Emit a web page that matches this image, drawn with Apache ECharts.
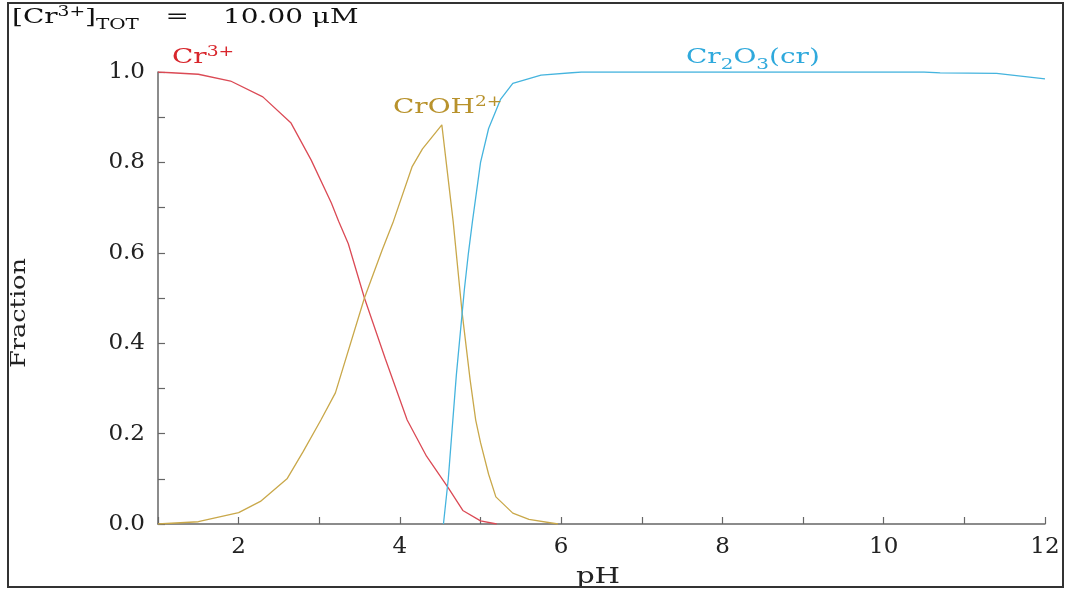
<!DOCTYPE html>
<html>
<head>
<meta charset="utf-8">
<script src="https://cdn.jsdelivr.net/npm/echarts@6/dist/echarts.min.js"></script>
<style>
  html, body { margin: 0; padding: 0; background: #fff; }
  #chart { width: 1067px; height: 590px; }
</style>
</head>
<body>
<div id="chart"></div>
<script>
// Chromium(III) speciation, total 10 µM: fraction of each species vs pH
const crFreePH   = [1.0, 1.5, 1.9, 2.3, 2.65, 2.9, 3.15, 3.24, 3.36, 3.56, 3.82, 4.09, 4.33, 4.6, 4.78, 5.0, 5.2];
const crFreeFrac = [1.0, 0.995, 0.98, 0.945, 0.887, 0.805, 0.71, 0.67, 0.62, 0.5, 0.365, 0.23, 0.15, 0.08, 0.03, 0.007, 0.0];

const crOHPH   = [1.0, 1.5, 2.0, 2.27, 2.6, 2.8, 3.02, 3.2, 3.56, 3.78, 3.92, 4.15, 4.28, 4.52, 4.66, 4.77, 4.87, 4.94, 5.0, 5.1, 5.19, 5.4, 5.6, 5.96];
const crOHFrac = [0.0, 0.005, 0.025, 0.05, 0.1, 0.16, 0.23, 0.29, 0.5, 0.606, 0.67, 0.79, 0.83, 0.883, 0.67, 0.47, 0.32, 0.23, 0.18, 0.11, 0.06, 0.024, 0.01, 0.0];

const cr2o3PH   = [4.54, 4.6, 4.7, 4.8, 4.85, 4.9, 5.0, 5.1, 5.25, 5.4, 5.75, 6.25, 8.0, 10.5, 10.7, 11.4, 12.0];
const cr2o3Frac = [0.0, 0.1, 0.33, 0.52, 0.6, 0.67, 0.8, 0.875, 0.94, 0.975, 0.993, 1.0, 1.0, 1.0, 0.998, 0.997, 0.985];

const xTickLabels = [2, 4, 6, 8, 10, 12];
const yTickLabels = [0.0, 0.2, 0.4, 0.6, 0.8, 1.0];

const FONT = '"DejaVu Serif", "Liberation Serif", serif';
const RED = '#db4a55', GOLD = '#c9a84a', BLUE = '#45b4de';
const WIDE = 1.33;   // horizontal stretch applied to the annotation text

function pairs(xs, ys) { return xs.map((x, i) => [x, ys[i]]); }

const lineSeries = (name, xs, ys, color) => ({
  name, type: 'line', data: pairs(xs, ys), showSymbol: false, smooth: false,
  lineStyle: { color, width: 1.3 }, z: 3
});

const rich = {
  b:   { fontFamily: FONT, fontSize: 21, lineHeight: 30, verticalAlign: 'middle' },
  sup: { fontFamily: FONT, fontSize: 14, lineHeight: 30, verticalAlign: 'top', padding: [2, 0, 0, 0] },
  sub: { fontFamily: FONT, fontSize: 15, lineHeight: 30, verticalAlign: 'bottom', padding: [0, 0, 0, 0] },
  tot: { fontFamily: FONT, fontSize: 15, lineHeight: 30, verticalAlign: 'bottom', padding: [6, 0, 0, 0] }
};

function label(x, y, text, color) {
  return {
    type: 'text', x, y, scaleX: WIDE, z: 10, silent: true,
    style: { text, fill: color, rich, font: '21px ' + FONT, verticalAlign: 'middle' }
  };
}

const chart = echarts.init(document.getElementById('chart'), null, { renderer: 'canvas' });

chart.setOption({
  animation: false,
  backgroundColor: '#fff',
  grid: { left: 158, right: 22, top: 72, bottom: 66, containLabel: false },
  xAxis: {
    type: 'value', min: 1, max: 12, interval: 1,
    axisLine: { lineStyle: { color: '#666', width: 1.5 } },
    axisTick: { inside: true, length: 7, lineStyle: { color: '#666', width: 1.2 } },
    axisLabel: {
      fontFamily: FONT, fontSize: 23, color: '#222', margin: 12,
      formatter: v => xTickLabels.indexOf(Math.round(v)) >= 0 ? String(Math.round(v)) : ''
    },
    splitLine: { show: false }
  },
  yAxis: {
    type: 'value', min: 0, max: 1, interval: 0.1,
    axisLine: { show: true, lineStyle: { color: '#666', width: 1.5 } },
    axisTick: { show: true, inside: true, length: 7, lineStyle: { color: '#666', width: 1.2 } },
    axisLabel: {
      fontFamily: FONT, fontSize: 23, color: '#222', margin: 13,
      formatter: v => {
        const r = Math.round(v * 10) / 10;
        return yTickLabels.some(t => Math.abs(t - r) < 1e-6) ? r.toFixed(1) : '';
      }
    },
    splitLine: { show: false }
  },
  series: [
    lineSeries('Cr3+', crFreePH, crFreeFrac, RED),
    lineSeries('CrOH2+', crOHPH, crOHFrac, GOLD),
    lineSeries('Cr2O3(cr)', cr2o3PH, cr2o3Frac, BLUE)
  ],
  graphic: [
    {
      type: 'rect', z: 20, silent: true,
      shape: { x: 8, y: 3, width: 1055, height: 584 },
      style: { fill: 'none', stroke: '#333', lineWidth: 2 }
    },
    label(12, 18, '{b|[Cr}{sup|3+}{b|]}{tot|TOT}{b|   =}', '#111'),
    label(223, 18, '{b|10.00 μM}', '#111'),
    label(172, 58, '{b|Cr}{sup|3+}', '#d8262c'),
    label(393, 108, '{b|CrOH}{sup|2+}', '#b8922c'),
    label(686, 58, '{b|Cr}{sub|2}{b|O}{sub|3}{b|(cr)}', '#2fa9dc'),
    {
      type: 'text', x: 598, y: 577, scaleX: WIDE, z: 10, silent: true,
      style: { text: 'pH', font: '22px ' + FONT, fill: '#222', align: 'center', verticalAlign: 'middle' }
    },
    {
      type: 'text', x: 20, y: 313, rotation: Math.PI / 2, scaleX: 1.22, z: 10, silent: true,
      style: { text: 'Fraction', font: '21px ' + FONT, fill: '#222', align: 'center', verticalAlign: 'middle' }
    }
  ]
});
</script>
</body>
</html>
